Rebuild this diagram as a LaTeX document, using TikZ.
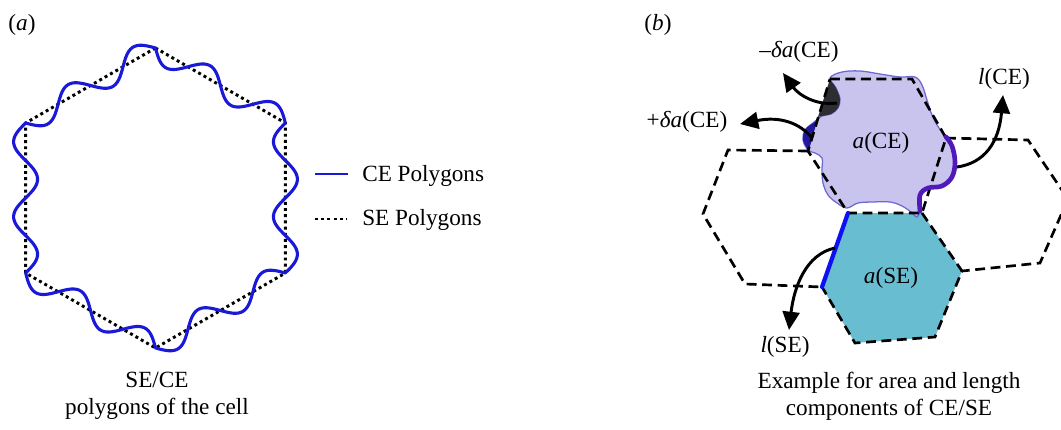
\documentclass[tikz,border=0pt]{standalone}
\usepackage{fontspec}
\setmainfont{Liberation Serif}
\usetikzlibrary{arrows.meta}

\definecolor{ceblue}{RGB}{25,25,215}
\definecolor{celav}{RGB}{190,186,234}
\definecolor{ceedge}{RGB}{110,105,210}
\definecolor{secyan}{RGB}{104,190,208}
\definecolor{lossdark}{RGB}{45,45,50}
\definecolor{gainblue}{RGB}{35,25,160}
\definecolor{lceline}{RGB}{80,25,185}
\definecolor{lseline}{RGB}{15,15,245}

\begin{document}
\begin{tikzpicture}[x=0.025cm,y=-0.025cm,
  font=\fontsize{16.5}{19}\selectfont,
  lbl/.style={inner sep=0pt},
  sedot/.style={line width=2.1pt,dash pattern=on 2.1pt off 2.3pt},
  cewave/.style={ceblue,line width=2.2pt,line join=round},
  hexline/.style={line width=1.9pt,dash pattern=on 7pt off 4pt},
  callout/.style={line width=2.1pt,-{Triangle[length=13pt,width=12pt]}},
  declare function={hk(\u)=90+60*floor(\u); ht(\u)=\u-floor(\u);}]
\useasboundingbox (0,0) rectangle (1061,429);

% (a) straight SE hexagon and wavy CE outline
\draw[sedot] (155.5,48) -- (25.6,123) -- (25.6,273) -- (155.5,348)
  -- (285.4,273) -- (285.4,123) -- cycle;
\draw[cewave] plot[domain=0:6,samples=361,variable=\s]
  ({155.5+150*((1-ht(\s))*cos(hk(\s))+ht(\s)*cos(hk(\s)+60))+12*sin(720*ht(\s))*cos(hk(\s)+30)},
   {198-150*((1-ht(\s))*sin(hk(\s))+ht(\s)*sin(hk(\s)+60))-12*sin(720*ht(\s))*sin(hk(\s)+30)}) -- cycle;

% legend
\coordinate (cekey1) at (315,174);
\coordinate (cekey2) at (348,174);
\coordinate (sekey1) at (315,219);
\coordinate (sekey2) at (347,219);
\draw[cewave,line width=1.7pt] (cekey1) -- (cekey2);
\draw[sedot,line width=1.7pt] (sekey1) -- (sekey2);
\node[lbl,anchor=west] (cekey) at (362,176) {CE Polygons};
\node[lbl,anchor=west] (sekey) at (362,220) {SE Polygons};

\node[lbl] (alab) at (22,25) {(\textit{a})};
\node[align=center,inner sep=0pt] (acap) at (157,396) {SE/CE\\polygons of the cell};

% (b) hexagon corners
\coordinate (ce1) at (830,79);
\coordinate (ce2) at (912,79);
\coordinate (ce3) at (946,138);
\coordinate (ce4) at (922,213);
\coordinate (ce5) at (848,213);
\coordinate (ce6) at (808,151);
\coordinate (se3) at (962,271);
\coordinate (se4) at (935,337);
\coordinate (se5) at (855,343);
\coordinate (se6) at (822,287);
\coordinate (lf1) at (728,150);
\coordinate (lf6) at (703,214);
\coordinate (lf5) at (745,284);
\coordinate (rt2) at (1028,140);
\coordinate (rt3) at (1068,199);
\coordinate (rt4) at (1040,263);

\fill[secyan] (ce5) -- (ce4) -- (se3) -- (se4) -- (se5) -- (se6) -- cycle;

% CE cell shape
\filldraw[fill=celav,fill opacity=0.85,draw=ceedge,line width=0.9pt]
  plot[smooth cycle,tension=0.6] coordinates {
  (830,78) (842,72) (860,71) (880,74) (900,77) (915,77) (922,85)
  (927,100) (932,115) (939,128) (947,137) (953,147) (955,163) (952,178)
  (942,187) (928,188) (920,195) (920,210) (917,217) (911,212) (902,206)
  (890,202) (873,202) (858,203) (847,208) (837,203) (828,195) (823,183)
  (822,170) (822,158) (815,153) (808,150) (803,140) (805,130) (813,123)
  (822,116) (831,114) (838,108) (840,99) (836,88)};
\fill[lossdark] (ce1) -- plot[smooth,tension=0.6] coordinates
  {(831,81) (836,88) (840,99) (838,108) (831,114) (822,116) (818,117)} -- cycle;
\fill[gainblue] (817,121) -- plot[smooth,tension=0.6] coordinates
  {(817,121) (813,123) (805,130) (803,140) (808,150) (809,150)} -- cycle;

% dashed hexagons
\draw[hexline] (ce1) -- (ce2) -- (ce3) -- (ce4) -- (ce5) -- (ce6) -- cycle;
\draw[hexline] (ce4) -- (se3) -- (se4) -- (se5) -- (se6);
\draw[hexline] (ce6) -- (lf1) -- (lf6) -- (lf5) -- (se6);
\draw[hexline] (ce3) -- (rt2) -- (rt3) -- (rt4) -- (se3);

% perimeter pieces
\draw[lseline,line width=3pt,line cap=round] (ce5) -- (se6);
\draw[lceline,line width=3.3pt,line cap=round] plot[smooth,tension=0.6] coordinates
  {(946,137) (952,146) (955,162) (952,177) (942,186) (928,188) (920,195) (920,211)};

% callouts
\coordinate (dmtail) at (837,103);
\coordinate (dmtip) at (783,73);
\coordinate (dptail) at (812,138);
\coordinate (dptip) at (740,124);
\coordinate (lcetail) at (957,167);
\coordinate (lcetip) at (1003,95);
\coordinate (lsetail) at (835,248);
\coordinate (lsetip) at (789,330);
\draw[callout] (dmtail) .. controls (815,106) and (798,94) .. (dmtip);
\draw[callout] (dptail) .. controls (800,123) and (780,116) .. (dptip);
\draw[callout] (lcetail) .. controls (985,163) and (999,142) .. (lcetip);
\draw[callout] (lsetail) .. controls (806,254) and (794,287) .. (lsetip);

\node[lbl] (dmlab) at (799,52) {–{\itshape δa}(CE)};
\node[lbl] (dplab) at (687,122) {+{\itshape δa}(CE)};
\node[lbl] (lcelab) at (1004,79) {{\itshape l}(CE)};
\node[lbl] (acelab) at (881,143) {{\itshape a}(CE)};
\node[lbl] (aselab) at (891,278) {{\itshape a}(SE)};
\node[lbl] (lselab) at (785,347) {{\itshape l}(SE)};

\node[lbl] (blab) at (658,25) {(\textit{b})};
\node[align=center,inner sep=0pt] (bcap) at (889,396) {Example for area and length\\components of CE/SE};
\end{tikzpicture}
\end{document}
